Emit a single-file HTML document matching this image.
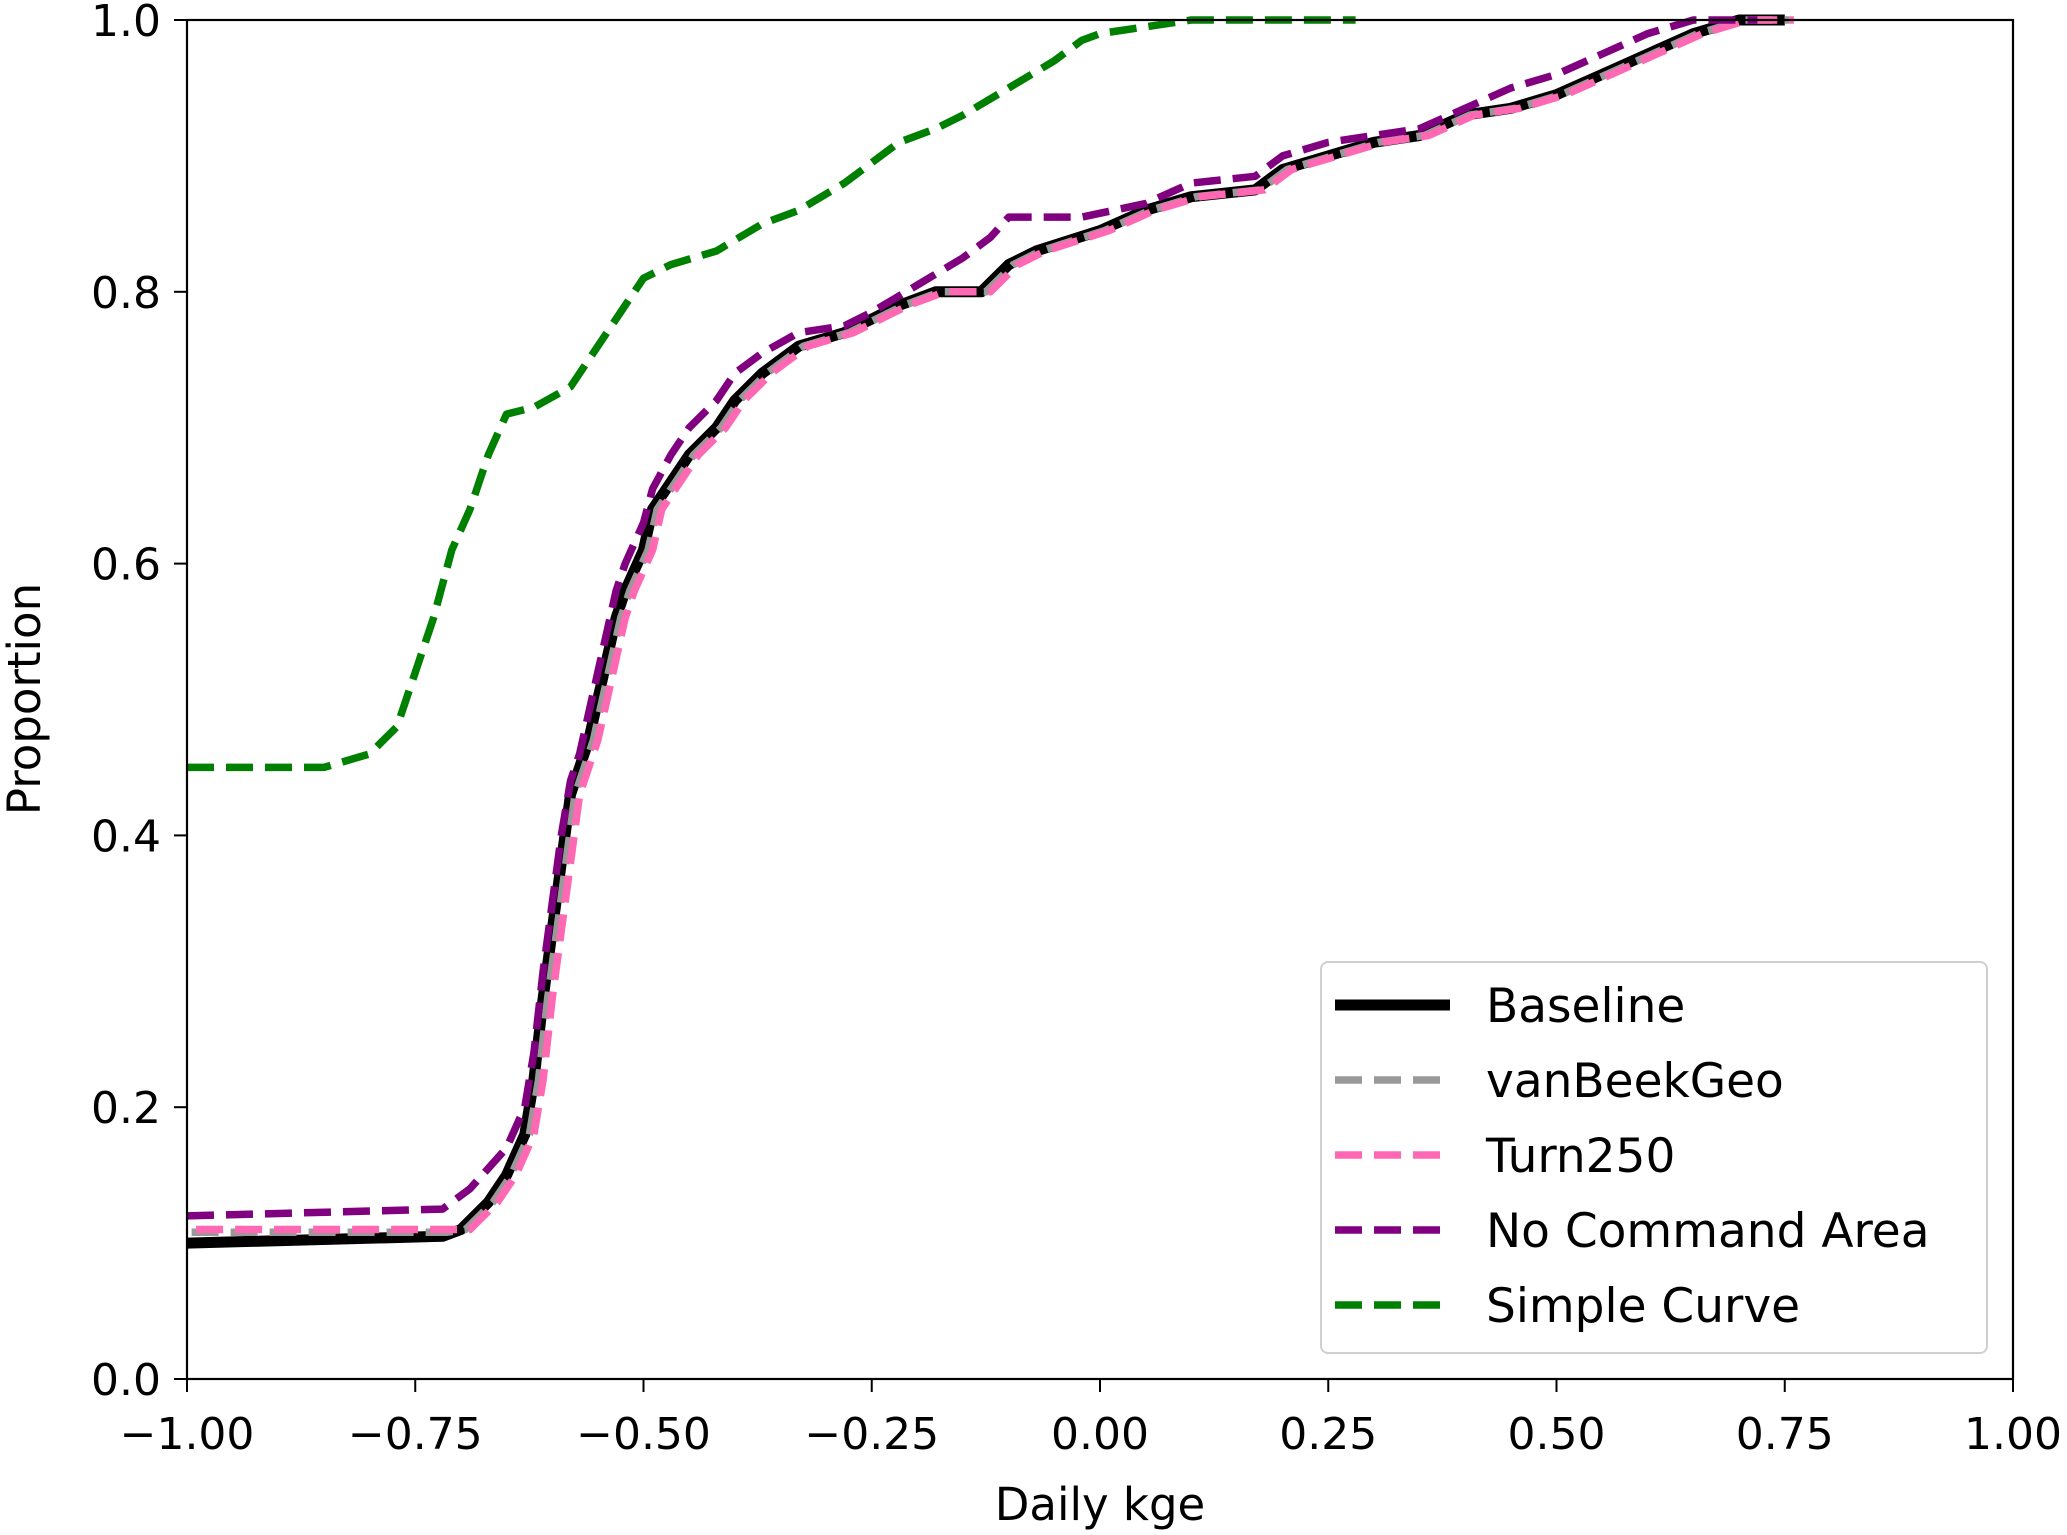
<!DOCTYPE html>
<html><head><meta charset="utf-8"><style>
html,body{margin:0;padding:0;background:#fff;}
svg{display:block;font-family:"DejaVu Sans","Liberation Sans",sans-serif;}
</style></head><body>
<svg id="chart" width="2067" height="1535" viewBox="0 0 2067 1535" xmlns="http://www.w3.org/2000/svg">
<rect x="0" y="0" width="2067" height="1535" fill="#fff"/>
<g id="series"></g>
<rect x="187" y="20" width="1826" height="1359" fill="none" stroke="#000" stroke-width="2.2"/>
<g id="ticks"></g>
<text x="1100" y="1520" font-size="45" text-anchor="middle">Daily kge</text>
<text x="40" y="699" font-size="45" text-anchor="middle" transform="rotate(-90 40 699)">Proportion</text>
<g id="legend"></g>
</svg>
<script>
const xTicks = [-1.0,-0.75,-0.5,-0.25,0,0.25,0.5,0.75,1.0];
const xTickLabels = ["\u22121.00","\u22120.75","\u22120.50","\u22120.25","0.00","0.25","0.50","0.75","1.00"];
const yTicks = [0,0.2,0.4,0.6,0.8,1.0];
const yTickLabels = ["0.0","0.2","0.4","0.6","0.8","1.0"];

const baselineX = [-1,-0.72,-0.70,-0.67,-0.65,-0.63,-0.62,-0.61,-0.60,-0.59,-0.58,-0.57,-0.56,-0.55,-0.54,-0.53,-0.52,-0.50,-0.49,-0.47,-0.45,-0.42,-0.40,-0.37,-0.33,-0.28,-0.25,-0.22,-0.18,-0.13,-0.10,-0.07,0,0.05,0.10,0.17,0.20,0.25,0.30,0.35,0.40,0.45,0.50,0.55,0.60,0.65,0.70,0.75];
const baselineY = [0.10,0.105,0.11,0.13,0.15,0.18,0.22,0.28,0.33,0.38,0.43,0.45,0.47,0.50,0.53,0.56,0.58,0.61,0.64,0.66,0.68,0.70,0.72,0.74,0.76,0.77,0.78,0.79,0.80,0.80,0.82,0.83,0.845,0.86,0.87,0.875,0.89,0.90,0.91,0.915,0.93,0.935,0.945,0.96,0.975,0.99,1.0,1.0];
const vanBeekX = baselineX.map(v=>v+0.005);
const vanBeekY = baselineY.map(v=>Math.max(v,0.108));
const turnX = baselineX.map(v=>v+0.01);
const turnY = baselineY.map(v=>Math.max(v,0.11));
const nocmdX = [-1,-0.72,-0.69,-0.67,-0.65,-0.63,-0.62,-0.61,-0.60,-0.59,-0.58,-0.57,-0.56,-0.55,-0.54,-0.53,-0.52,-0.50,-0.49,-0.47,-0.45,-0.42,-0.40,-0.37,-0.33,-0.28,-0.25,-0.20,-0.15,-0.12,-0.10,-0.02,0.05,0.10,0.17,0.20,0.25,0.30,0.35,0.40,0.45,0.50,0.55,0.60,0.65,0.70,0.72];
const nocmdY = [0.12,0.125,0.14,0.155,0.17,0.20,0.24,0.30,0.35,0.40,0.44,0.46,0.49,0.52,0.55,0.58,0.60,0.63,0.655,0.68,0.70,0.72,0.74,0.755,0.77,0.775,0.785,0.805,0.825,0.84,0.855,0.855,0.865,0.88,0.885,0.90,0.91,0.915,0.92,0.935,0.95,0.96,0.975,0.99,1.0,1.0,1.0];
const simpleX = [-1,-0.85,-0.80,-0.77,-0.75,-0.73,-0.71,-0.69,-0.67,-0.65,-0.62,-0.58,-0.55,-0.52,-0.50,-0.47,-0.42,-0.37,-0.33,-0.28,-0.22,-0.18,-0.15,-0.10,-0.05,-0.02,0,0.05,0.10,0.28];
const simpleY = [0.45,0.45,0.46,0.48,0.52,0.56,0.61,0.64,0.68,0.71,0.715,0.73,0.76,0.79,0.81,0.82,0.83,0.85,0.86,0.88,0.91,0.92,0.93,0.95,0.97,0.985,0.99,0.995,1.0,1.0];

const seriesNames = ["Baseline","vanBeekGeo","Turn250","No Command Area","Simple Curve"];

const X0=187,X1=2013,Y0=1379,Y1=20;
function sx(v){return X0+(v+1)/2*(X1-X0);}
function sy(v){return Y0-v*(Y0-Y1);}
const NS="http://www.w3.org/2000/svg";
function mk(tag,attrs,parent){const e=document.createElementNS(NS,tag);for(const k in attrs)e.setAttribute(k,attrs[k]);parent.appendChild(e);return e;}

const styles=[
 {color:"#000000",w:11,dash:null},
 {color:"#999999",w:7.5,dash:"27 12"},
 {color:"#ff69b4",w:7.5,dash:"27 12"},
 {color:"#800080",w:7.5,dash:"27 12"},
 {color:"#008000",w:7.5,dash:"27 12"}
];
const seriesData=[[baselineX,baselineY],[vanBeekX,vanBeekY],[turnX,turnY],[nocmdX,nocmdY],[simpleX,simpleY]];
const sl=document.getElementById("series");
const order=[4,0,1,2,3];
order.forEach(i=>{
  const [xs,ys]=seriesData[i];
  const pts=xs.map((x,j)=>sx(x).toFixed(1)+","+sy(ys[j]).toFixed(1)).join(" ");
  const p=mk("polyline",{points:pts,fill:"none",stroke:styles[i].color,"stroke-width":styles[i].w,"stroke-linejoin":"round"},sl);
  if(styles[i].dash)p.setAttribute("stroke-dasharray",styles[i].dash);
  
  
});

const tl=document.getElementById("ticks");
xTicks.forEach((v,i)=>{
  const l=mk("line",{x1:sx(v),x2:sx(v),y1:Y0,y2:Y0+13,stroke:"#000","stroke-width":2},tl);
  
  
  const t=mk("text",{x:sx(v),y:Y0+70,"font-size":44,"text-anchor":"middle"},tl);
  t.textContent=xTickLabels[i];
  
  
});
yTicks.forEach((v,i)=>{
  const l=mk("line",{x1:X0-13,x2:X0,y1:sy(v),y2:sy(v),stroke:"#000","stroke-width":2},tl);
  
  
  const t=mk("text",{x:X0-26,y:sy(v)+16,"font-size":44,"text-anchor":"end"},tl);
  t.textContent=yTickLabels[i];
  
  
});

const lg=document.getElementById("legend");
const box=mk("rect",{x:1321,y:962,width:666,height:391,rx:7,fill:"#fff","fill-opacity":0.85,stroke:"#d0d0d0","stroke-width":2},lg);


seriesNames.forEach((n,i)=>{
  const y=1005+i*75;
  const l=mk("line",{x1:1335,x2:1450,y1:y,y2:y,stroke:styles[i].color,"stroke-width":styles[i].w},lg);
  if(styles[i].dash)l.setAttribute("stroke-dasharray",styles[i].dash);
  
  
  const t=mk("text",{x:1486,y:y+17,"font-size":47},lg);
  t.textContent=n;
  
  
});
</script>
</body></html>
